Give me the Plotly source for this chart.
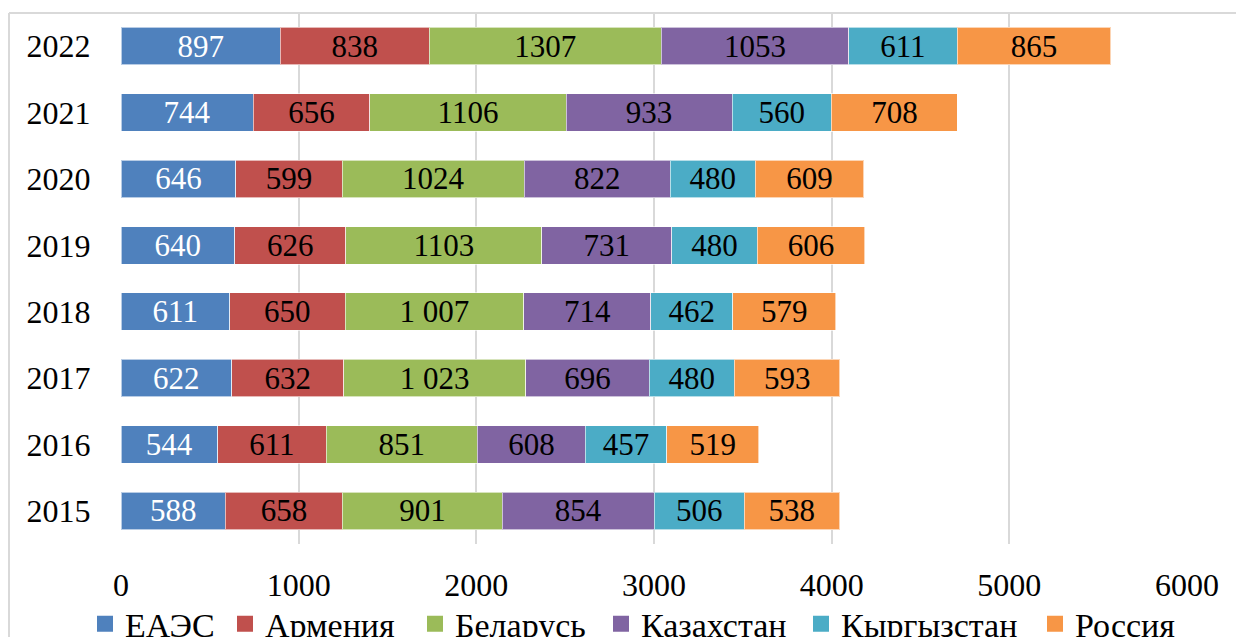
import plotly.graph_objects as go

# Years shown on the vertical axis (bottom to top)
years = ["2015", "2016", "2017", "2018", "2019", "2020", "2021", "2022"]

# Values per country, aligned with `years`
eaes = [588, 544, 622, 611, 640, 646, 744, 897]
armenia = [658, 611, 632, 650, 626, 599, 656, 838]
belarus = [901, 851, 1023, 1007, 1103, 1024, 1106, 1307]
kazakhstan = [854, 608, 696, 714, 731, 822, 933, 1053]
kyrgyzstan = [506, 457, 480, 462, 480, 480, 560, 611]
russia = [538, 519, 593, 579, 606, 609, 708, 865]

series_names = ["ЕАЭС", "Армения", "Беларусь", "Казахстан", "Кыргызстан", "Россия"]
series_colors = ["#4F81BD", "#C0504D", "#9BBB59", "#8064A2", "#4BACC6", "#F79646"]
label_colors = ["white", "black", "black", "black", "black", "black"]

# Years whose labels use a space as thousands separator
spaced_years = {"2017", "2018"}

x_ticks = [0, 1000, 2000, 3000, 4000, 5000, 6000]

FONT = "'Liberation Serif', 'Times New Roman', 'DejaVu Serif', serif"
FS_LABEL = 31
FS_TICK = 32
FS_LEGEND = 34

W, H = 1236, 637
plot_l, plot_r, plot_t, plot_b = 121, 49, 13, 93
pw = W - plot_l - plot_r

# Horizontal pixel position of each legend swatch centre along the bottom row
legend_swatch_px = [106, 246, 436, 622, 822, 1056]


def fmt(v, year):
    if year in spaced_years and v >= 1000:
        return f"{v:,}".replace(",", " ")
    return str(v)


fig = go.Figure()
for i, (name, vals, color, tcolor) in enumerate(zip(
    series_names,
    [eaes, armenia, belarus, kazakhstan, kyrgyzstan, russia],
    series_colors,
    label_colors,
)):
    fig.add_trace(
        go.Bar(
            name=name,
            y=years,
            x=vals,
            orientation="h",
            marker=dict(color=color, line=dict(color="rgba(255,255,255,0.6)", width=1)),
            text=[fmt(v, y) for v, y in zip(vals, years)],
            textposition="inside",
            insidetextanchor="middle",
            textangle=0,
            insidetextfont=dict(family=FONT, size=FS_LABEL, color=tcolor),
            showlegend=False,
            hoverinfo="skip",
        )
    )
    # Legend entry (one legend box per series so each can be placed on the row)
    legend_id = "legend" if i == 0 else f"legend{i + 1}"
    fig.add_trace(
        go.Scatter(
            name=name,
            x=[None],
            y=[None],
            mode="markers",
            marker=dict(symbol="square", size=17, color=color),
            showlegend=True,
            legend=legend_id,
        )
    )

legend_layouts = {}
for i, px in enumerate(legend_swatch_px):
    legend_id = "legend" if i == 0 else f"legend{i + 1}"
    legend_layouts[legend_id] = dict(
        orientation="h",
        x=(px - 21 - plot_l) / pw,
        xanchor="left",
        y=-0.151,
        yanchor="middle",
        font=dict(family=FONT, size=FS_LEGEND),
        bgcolor="rgba(0,0,0,0)",
        itemclick=False,
        itemdoubleclick=False,
    )

fig.update_layout(
    width=W,
    height=H,
    barmode="stack",
    bargap=0.434,
    margin=dict(l=plot_l, r=plot_r, t=plot_t, b=plot_b, pad=0, autoexpand=False),
    paper_bgcolor="white",
    plot_bgcolor="white",
    font=dict(family=FONT, size=FS_TICK, color="black"),
    uniformtext=dict(minsize=FS_LABEL, mode="show"),
    xaxis=dict(
        range=[0, 6000],
        tickvals=x_ticks,
        ticktext=[str(t) for t in x_ticks],
        showgrid=True,
        gridcolor="#D9D9D9",
        gridwidth=2,
        zeroline=False,
        showline=False,
        ticks="outside",
        ticklen=13,
        tickcolor="rgba(0,0,0,0)",
        tickfont=dict(family=FONT, size=FS_TICK),
        fixedrange=True,
        automargin=False,
    ),
    yaxis=dict(
        type="category",
        categoryorder="array",
        categoryarray=years,
        range=[-0.5, 7.5],
        showgrid=False,
        zeroline=False,
        showline=False,
        ticks="outside",
        ticklen=23,
        tickcolor="rgba(0,0,0,0)",
        tickfont=dict(family=FONT, size=FS_TICK),
        fixedrange=True,
        automargin=False,
    ),
    shapes=[
        # chart area frame: top and left edges
        dict(type="line", xref="paper", yref="paper",
             x0=(9 - plot_l) / pw, x1=(W - plot_l) / pw, y0=1, y1=1,
             line=dict(color="#D9D9D9", width=2)),
        dict(type="line", xref="paper", yref="paper",
             x0=(9 - plot_l) / pw, x1=(9 - plot_l) / pw, y0=1, y1=-0.3,
             line=dict(color="#D9D9D9", width=2)),
    ],
    **legend_layouts,
)

fig.write_html("out.html", config={"displayModeBar": False})
